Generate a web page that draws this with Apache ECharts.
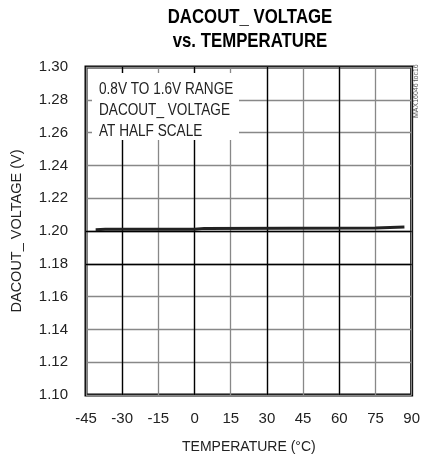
<!DOCTYPE html>
<html><head><meta charset="utf-8">
<script src="https://cdn.jsdelivr.net/npm/echarts@6/dist/echarts.min.js"></script>
<style>html,body{margin:0;padding:0;background:#fff}#c{width:423px;height:460px}</style>
</head><body><div id="c"></div>
<script>
const titleLines = ['DACOUT_ VOLTAGE', 'vs. TEMPERATURE'];
const xName = 'TEMPERATURE (°C)';
const yName = 'DACOUT_ VOLTAGE (V)';
const noteLines = ['0.8V TO 1.6V RANGE', 'DACOUT_ VOLTAGE', 'AT HALF SCALE'];
const watermark = 'MAX16046 toc16';
const xTicks = [-45, -30, -15, 0, 15, 30, 45, 60, 75, 90];
const yTicks = [1.10, 1.12, 1.14, 1.16, 1.18, 1.20, 1.22, 1.24, 1.26, 1.28, 1.30];
const blackX = [-30, 0, 30, 60];
const blackY = [1.18, 1.20];
const temps = [-41, -37, -30, 0, 4, 75, 87];
const volts = [1.2008, 1.2010, 1.2011, 1.2011, 1.2016, 1.2018, 1.2025];

const F = '"Liberation Sans", Arial, sans-serif';
const chart = echarts.init(document.getElementById('c'));
chart.setOption({
  animation: false,
  backgroundColor: '#fff',
  grid: {left: 86, right: 10, top: 67, bottom: 65, show: true, borderColor: '#000', borderWidth: 3, backgroundColor: 'transparent'},
  xAxis: {
    type: 'value', min: xTicks[0], max: xTicks[xTicks.length - 1], interval: 15,
    name: xName, nameLocation: 'middle', nameGap: 45,
    nameTextStyle: {fontFamily: F, fontSize: 14, color: '#222'},
    axisLine: {show: false}, axisTick: {show: false},
    axisLabel: {fontFamily: F, fontSize: 15, color: '#222', margin: 16},
    splitLine: {show: true, lineStyle: {color: '#888', width: 1.3}}
  },
  yAxis: {
    type: 'value', min: yTicks[0], max: yTicks[yTicks.length - 1], interval: 0.02,
    name: yName, nameLocation: 'middle', nameGap: 62, nameRotate: 90,
    nameTextStyle: {fontFamily: F, fontSize: 14.5, color: '#222'},
    axisLine: {show: false}, axisTick: {show: false},
    axisLabel: {fontFamily: F, fontSize: 15, color: '#222', margin: 18, formatter: v => v.toFixed(2)},
    splitLine: {show: true, lineStyle: {color: '#888', width: 1.3}}
  },
  series: [
    {
      type: 'line', data: [], z: 1,
      markLine: {
        silent: true, symbol: 'none', z: 1, animation: false,
        label: {show: false},
        lineStyle: {color: '#000', width: 1.3, type: 'solid'},
        data: blackX.map(v => ({xAxis: v})).concat(blackY.map(v => ({yAxis: v})))
      }
    },
    {
      type: 'line', z: 5, showSymbol: false, symbol: 'none',
      data: temps.map((t, i) => [t, volts[i]]),
      lineStyle: {color: '#222', width: 3}
    }
  ],
  graphic: [
    {type: 'text', z: 51, x: 250, y: 5, scaleX: 0.8, style: {text: titleLines.join('\n'), font: 'bold 21px ' + F, fill: '#000', lineHeight: 24, textAlign: 'center', textVerticalAlign: 'top'}},
    {type: 'rect', z: 50, shape: {x: 92, y: 73, width: 147, height: 67}, style: {fill: '#fff'}},
    {type: 'text', z: 51, x: 99, y: 79, scaleX: 0.8, style: {text: noteLines.join('\n'), font: '17px ' + F, fill: '#222', lineHeight: 21, textVerticalAlign: 'top'}},
    {type: 'text', z: 51, x: 413, y: 118, rotation: Math.PI / 2, style: {text: watermark, font: '7px ' + F, fill: '#555', textVerticalAlign: 'top'}}
  ]
});
</script></body></html>
